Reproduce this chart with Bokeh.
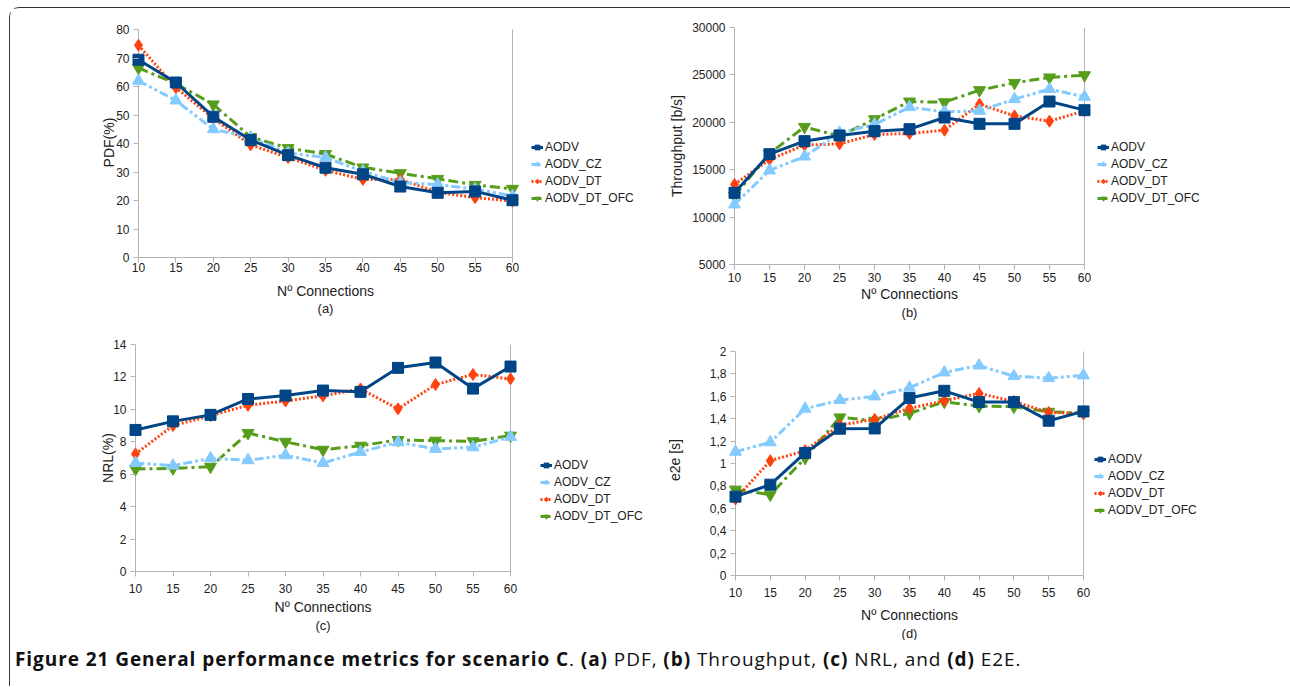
import math
from bokeh.plotting import figure
from bokeh.models import (Legend, LegendItem, FixedTicker, Title, Range1d,
                          CustomJSTickFormatter, Div)
from bokeh.layouts import row, column
from bokeh.embed import file_html
from bokeh.resources import INLINE

# ---------------- data ----------------
connections = [10, 15, 20, 25, 30, 35, 40, 45, 50, 55, 60]
series_names = ["AODV", "AODV_CZ", "AODV_DT", "AODV_DT_OFC"]

pdf_aodv = [69.4, 61.4, 49.4, 41.2, 35.9, 31.5, 29.2, 24.9, 22.7, 23.2, 20.1]
pdf_aodv_cz = [62.0, 55.1, 45.0, 42.1, 36.7, 35.1, 30.2, 26.3, 25.6, 24.0, 21.6]
pdf_aodv_dt = [74.5, 59.6, 48.8, 39.5, 35.1, 30.6, 27.4, 27.4, 22.9, 21.0, 19.8]
pdf_aodv_dt_ofc = [66.5, 61.0, 53.7, 42.3, 38.4, 36.3, 31.6, 29.6, 27.6, 25.5, 24.1]

thr_aodv = [12560, 16640, 18010, 18610, 19065, 19276, 20506, 19838, 19838, 22194, 21280]
thr_aodv_cz = [11330, 14920, 16390, 18890, 19770, 21600, 21100, 21210, 22440, 23500, 22690]
thr_aodv_dt = [13450, 16080, 17590, 17730, 18710, 18820, 19170, 21910, 20680, 20120, 21200]
thr_aodv_dt_ofc = [12250, 16700, 19520, 18540, 20330, 22190, 22120, 23390, 24160, 24730, 24970]

nrl_aodv = [8.73, 9.26, 9.66, 10.64, 10.85, 11.16, 11.08, 12.56, 12.89, 11.28, 12.64]
nrl_aodv_cz = [6.69, 6.53, 6.98, 6.86, 7.17, 6.69, 7.37, 7.97, 7.56, 7.66, 8.30]
nrl_aodv_dt = [7.25, 9.00, 9.61, 10.25, 10.52, 10.83, 11.26, 10.03, 11.53, 12.15, 11.88]
nrl_aodv_dt_ofc = [6.32, 6.36, 6.46, 8.54, 8.00, 7.51, 7.76, 8.11, 8.07, 8.03, 8.38]

e2e_aodv = [0.704, 0.811, 1.094, 1.311, 1.313, 1.584, 1.649, 1.548, 1.548, 1.382, 1.465]
e2e_aodv_cz = [1.105, 1.189, 1.489, 1.566, 1.599, 1.676, 1.813, 1.875, 1.780, 1.762, 1.786]
e2e_aodv_dt = [0.683, 1.025, 1.114, 1.343, 1.394, 1.492, 1.560, 1.626, 1.554, 1.456, 1.447]
e2e_aodv_dt_ofc = [0.767, 0.722, 1.049, 1.412, 1.382, 1.447, 1.551, 1.513, 1.507, 1.462, 1.450]

pdf_ticks = [0, 10, 20, 30, 40, 50, 60, 70, 80]
thr_ticks = [5000, 10000, 15000, 20000, 25000, 30000]
nrl_ticks = [0, 2, 4, 6, 8, 10, 12, 14]
e2e_ticks = [0, 0.2, 0.4, 0.6, 0.8, 1.0, 1.2, 1.4, 1.6, 1.8, 2.0]

# ---------------- style ----------------
COLORS = ["#004586", "#83caff", "#ff420e", "#579d1c"]
MARKERS = ["square", "triangle", "diamond", "inverted_triangle"]
DASHES = ["solid", "9 3 3 3 3 3", "2 2", "10 4 3 4"]
SIZES = [11, 12, 12, 12]
LEG_SIZES = [7, 8, 8, 8]
GREY = "#b3b3b3"
TXT = "#222222"
FONT = "Liberation Sans"
PAD = 7


def make_panel(series, y_ticks, ylabel, tag, g, fmt=None):
    span_w = g["fw"] - 2 * PAD
    k = span_w / 50.0
    x_lo, x_hi = 10 - PAD / k, 60 + PAD / k
    y_lo, y_hi = y_ticks[0], y_ticks[-1]
    ky = g["axh"] / float(y_hi - y_lo)          # px per unit
    y_top = y_hi + g["extra_top"] / ky           # frame may reach above top tick
    p = figure(frame_width=g["fw"], frame_height=g["axh"] + g["extra_top"],
               min_border_left=g["l"], min_border_right=0,
               min_border_top=g["t"], min_border_bottom=g["b"],
               x_range=Range1d(x_lo, x_hi), y_range=Range1d(y_lo, y_top),
               output_backend="svg", toolbar_location=None, tools="")
    p.outline_line_color = None
    p.xgrid.visible = False
    p.ygrid.visible = False

    xa = p.xaxis[0]
    xa.ticker = FixedTicker(ticks=connections)
    xa.bounds = (connections[0], connections[-1])
    xa.axis_line_color = GREY
    xa.major_tick_line_color = GREY
    xa.major_tick_out = 5
    xa.major_tick_in = 0
    xa.minor_tick_line_color = None
    xa.major_label_standoff = g["xls"]
    xa.major_label_text_font = FONT
    xa.major_label_text_font_size = "12px"
    xa.major_label_text_color = TXT
    xa.axis_label = "Nº Connections"
    xa.axis_label_standoff = g["xas"]
    xa.axis_label_text_font = FONT
    xa.axis_label_text_font_size = "14px"
    xa.axis_label_text_font_style = "normal"
    xa.axis_label_text_color = TXT

    ya = p.yaxis[0]
    ya.ticker = FixedTicker(ticks=y_ticks)
    ya.axis_line_color = None
    ya.major_tick_line_color = GREY
    ya.major_tick_in = PAD
    ya.major_tick_out = -(PAD - 5)
    ya.minor_tick_line_color = None
    ya.major_label_standoff = 2
    ya.major_label_text_font = FONT
    ya.major_label_text_font_size = "12px"
    ya.major_label_text_color = TXT
    ya.axis_label = ylabel
    ya.axis_label_standoff = g["yas"]
    ya.axis_label_text_font = FONT
    ya.axis_label_text_font_size = "14px"
    ya.axis_label_text_font_style = "normal"
    ya.axis_label_text_color = TXT
    if fmt is not None:
        ya.formatter = fmt

    # visible y axis line (at x=10) and right wall line (at x=60)
    p.segment(x0=[connections[0], connections[-1]], y0=[y_lo, y_lo],
              x1=[connections[0], connections[-1]], y1=[y_hi, y_hi],
              line_color=GREY, line_width=1, level="underlay")

    for i in reversed(range(4)):
        p.line(connections, series[i], line_color=COLORS[i], line_width=3,
               line_dash=DASHES[i])
        p.scatter(connections, series[i], marker=MARKERS[i], size=SIZES[i],
                  fill_color=COLORS[i], line_color=COLORS[i])

    p.add_layout(Title(text=tag, align="center", text_font=FONT,
                       text_font_size="13px", text_font_style="normal",
                       text_color=TXT, standoff=g["ts"]), "below")
    return p


def make_legend_box(width, height, top, loc):
    q = figure(frame_width=width, frame_height=height,
               min_border_left=0, min_border_right=0,
               min_border_top=top, min_border_bottom=0,
               x_range=Range1d(0, 1), y_range=Range1d(0, 1),
               x_axis_location=None, y_axis_location=None,
               output_backend="svg", toolbar_location=None, tools="")
    q.outline_line_color = None
    q.xgrid.visible = False
    q.ygrid.visible = False
    items = []
    nan = [float("nan")]
    for i in range(4):
        lr = q.line(nan, nan, line_color=COLORS[i], line_width=3, line_dash=DASHES[i])
        sr = q.scatter(nan, nan, marker=MARKERS[i], size=LEG_SIZES[i],
                       fill_color=COLORS[i], line_color=COLORS[i])
        items.append(LegendItem(label=series_names[i], renderers=[lr, sr]))
    leg = Legend(items=items, location=loc, orientation="vertical",
                 border_line_color=None, background_fill_alpha=0,
                 padding=0, margin=0, spacing=3, glyph_width=12,
                 glyph_height=14, label_height=14, label_standoff=2,
                 label_text_font=FONT, label_text_font_size="12px",
                 label_text_color=TXT)
    q.add_layout(leg)
    return q


geo_a = dict(l=121, fw=388, t=19, axh=228, extra_top=2, b=68, xls=0, xas=8, yas=-4, ts=-6)
geo_b = dict(l=87, fw=364, t=19, axh=237, extra_top=0, b=61, xls=3, xas=1, yas=4, ts=-3)
geo_c = dict(l=118, fw=389, t=19, axh=227, extra_top=0, b=69, xls=7, xas=3, yas=-6, ts=-3)
geo_d = dict(l=78, fw=362, t=19, axh=224, extra_top=7, b=65, xls=7, xas=7, yas=24, ts=-4)

e2e_fmt = CustomJSTickFormatter(code="""
var s = tick.toFixed(1).replace('.', ',');
if (s.slice(-2) == ',0') { s = s.slice(0, -2); }
return s;
""")

pa = make_panel([pdf_aodv, pdf_aodv_cz, pdf_aodv_dt, pdf_aodv_dt_ofc],
                pdf_ticks, "PDF(%)", "(a)", geo_a)
pb = make_panel([thr_aodv, thr_aodv_cz, thr_aodv_dt, thr_aodv_dt_ofc],
                thr_ticks, "Throughput [b/s]", "(b)", geo_b)
pc = make_panel([nrl_aodv, nrl_aodv_cz, nrl_aodv_dt, nrl_aodv_dt_ofc],
                nrl_ticks, "NRL(%)", "(c)", geo_c)
pd_ = make_panel([e2e_aodv, e2e_aodv_cz, e2e_aodv_dt, e2e_aodv_dt_ofc],
                 e2e_ticks, "e2e [s]", "(d)", geo_d, fmt=e2e_fmt)

la = make_legend_box(121, 298, 19, (12, 120))
lb = make_legend_box(197, 298, 19, (6, 120))
lc = make_legend_box(133, 296, 19, (23, 117))
ld = make_legend_box(198, 296, 19, (4, 123))

caption = Div(
    text=('<b>Figure 21 General performance metrics for scenario C</b>. '
          '<b>(a)</b> PDF, <b>(b)</b> Throughput, <b>(c)</b> NRL, and '
          '<b>(d)</b> E2E.'),
    width=1270, height=36,
    styles={"font-family": "Open Sans", "font-size": "19px", "color": "#111",
            "letter-spacing": "0.93px", "padding-left": "0px", "padding-top": "1px",
            "white-space": "nowrap"})

layout = column(row(pa, la, pb, lb), row(pc, lc, pd_, ld), caption,
                margin=(7, 0, 0, 9),
                styles={"border-top": "1px solid #333",
                        "border-left": "1px solid #333",
                        "border-top-left-radius": "10px"})

open("out.html", "w").write(file_html(layout, INLINE))
